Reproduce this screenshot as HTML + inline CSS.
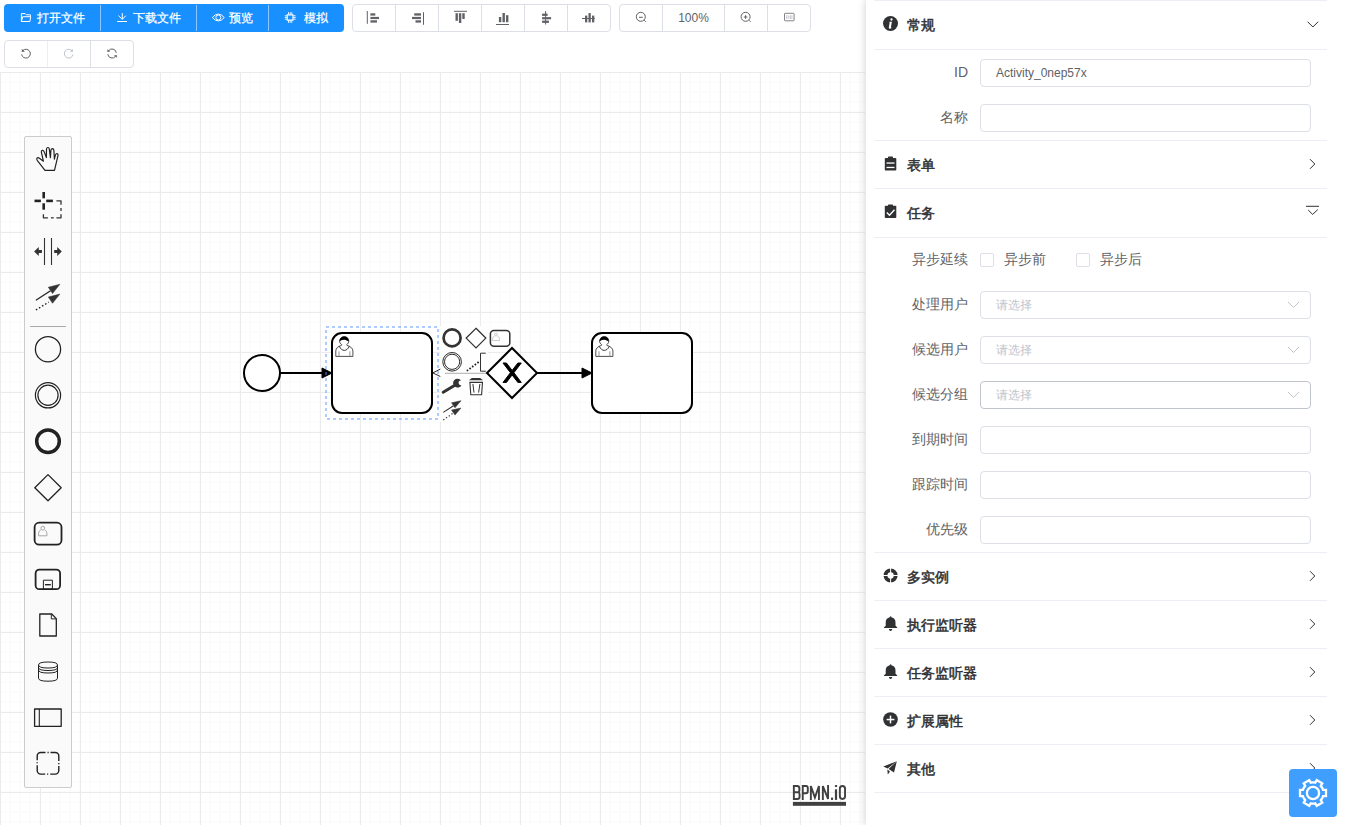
<!DOCTYPE html>
<html><head><meta charset="utf-8">
<style>
*{box-sizing:border-box}
html,body{margin:0;padding:0;width:1345px;height:825px;overflow:hidden;background:#fff;font-family:"Liberation Sans",sans-serif;}
.abs{position:absolute}
#canvas{position:absolute;left:0;top:72px;width:865px;height:753px;
background-color:#fff;
background-image:
linear-gradient(to right,#ebebeb 1px,transparent 1px),
linear-gradient(to bottom,#ebebeb 1px,transparent 1px),
linear-gradient(to right,#fcfcfc 1px,transparent 1px,transparent 9px,#fcfcfc 9px),
linear-gradient(to bottom,#fcfcfc 1px,transparent 1px,transparent 9px,#fcfcfc 9px);
background-size:40px 40px,40px 40px,10px 10px,10px 10px;}
.grp{position:absolute;height:28px;border:1px solid #dcdfe6;border-radius:4px;background:#fff;display:flex}
.grp .b{height:26px;border-left:1px solid #dcdfe6;display:flex;align-items:center;justify-content:center;color:#606266;font-size:12px}
.grp .b:first-child{border-left:none}
.pgrp{position:absolute;left:4px;top:4px;width:340px;height:28px;background:#1890ff;border-radius:4px;color:#fff;font-size:12px}
.pgrp .b{position:absolute;top:0;height:28px;line-height:28px;-webkit-text-stroke:0.25px #fff}
.pgrp .d{position:absolute;top:1px;width:1px;height:26px;background:rgba(255,255,255,.5)}
#palette{position:absolute;left:24px;top:136px;width:48px;height:652px;background:#fafafa;border:1px solid #ccc;border-radius:2px}
#panel{position:absolute;left:866px;top:0;width:479px;height:825px;background:#fff;box-shadow:0 0 8px #ccc}
.sep{position:absolute;left:9px;width:453px;height:1px;background:#ebeef5}
.hd{position:absolute;left:42px;font-size:14px;font-weight:normal;-webkit-text-stroke:0.5px #303133;color:#303133;line-height:20px}
.lbl{position:absolute;width:103px;left:0;text-align:right;font-size:14px;color:#606266;line-height:20px}
.inp{position:absolute;left:115px;width:331px;height:28px;border:1px solid #dcdfe6;border-radius:4px;font-size:12px;color:#606266;padding-left:15px;line-height:26px}
.ph{color:#c0c4cc}
.cb{position:absolute;width:14px;height:14px;border:1px solid #dcdfe6;border-radius:2px;background:#fff}
.cbl{position:absolute;font-size:14px;color:#606266;line-height:20px}
</style></head><body>
<div id="canvas"></div>
<div class="pgrp">
  <div class="b" style="left:33px">打开文件</div>
  <div class="d" style="left:96px"></div>
  <div class="b" style="left:129px">下载文件</div>
  <div class="d" style="left:192px"></div>
  <div class="b" style="left:225px">预览</div>
  <div class="d" style="left:264px"></div>
  <div class="b" style="left:300px">模拟</div>
</div>
<div class="grp" style="left:352px;top:4px;width:259px">
  <div class="b" style="width:42px"></div><div class="b" style="width:43px"></div><div class="b" style="width:43px"></div><div class="b" style="width:43px"></div><div class="b" style="width:43px"></div><div class="b" style="width:43px"></div>
</div>
<div class="grp" style="left:619px;top:4px;width:192px">
  <div class="b" style="width:42px"></div><div class="b" style="width:62px">100%</div><div class="b" style="width:43px"></div><div class="b" style="width:43px"></div>
</div>
<div class="grp" style="left:4px;top:40px;width:130px">
  <div class="b" style="width:42px"></div><div class="b" style="width:43px;border-color:#ebeef5"></div><div class="b" style="width:43px"></div>
</div>
<svg class="abs" style="left:0;top:0" width="865" height="72">
<g fill="none" stroke="#fff" stroke-width="1" stroke-linejoin="round">
  <!-- folder opened -->
  <path d="M21.4,21.5 V13.6 H25.2 L26.3,14.8 H30.4 V16.6"/>
  <path d="M22.7,16.7 H30.7 L29.9,21.5 H21.4 Z"/>
  <!-- download -->
  <line x1="122.3" y1="13.1" x2="122.3" y2="19.2"/>
  <path d="M118.5,15.7 L122.3,19.3 L125.8,15.7"/>
  <line x1="117.2" y1="21.5" x2="127" y2="21.5"/>
  <!-- eye -->
  <path d="M212.3,17.5 Q218.3,10.6 224.3,17.5 Q218.3,24.4 212.3,17.5 Z"/>
  <circle cx="218.3" cy="17.5" r="2.5"/>
  <!-- chip -->
  <rect x="287.2" y="14.9" width="5.8" height="5.2" stroke-width="1.2"/>
  <g stroke-width="0.9">
  <path d="M288.5,12.2 V14.5 M290.2,12.2 V14.5 M291.8,12.2 V14.5 M288.5,20.5 V22.8 M290.2,20.5 V22.8 M291.8,20.5 V22.8"/>
  <path d="M284.8,15.8 H286.8 M284.8,17.5 H286.8 M284.8,19.2 H286.8 M293.4,15.8 H295.6 M293.4,17.5 H295.6 M293.4,19.2 H295.6"/>
  </g>
</g>
<g fill="#606266" stroke="none">
  <!-- align left -->
  <rect x="366.8" y="11" width="1" height="12.8"/>
  <rect x="370.4" y="13.3" width="4.9" height="2.3"/>
  <rect x="370.4" y="16.9" width="8.6" height="2.2"/>
  <rect x="370.4" y="20.3" width="6.6" height="2.3"/>
  <!-- align right -->
  <rect x="423" y="12.2" width="1" height="12.6"/>
  <rect x="414.2" y="13.3" width="6.8" height="2.3"/>
  <rect x="412" y="16.9" width="9" height="2.2"/>
  <rect x="415.5" y="20.3" width="5.5" height="2.3"/>
  <!-- align top -->
  <rect x="454" y="10.8" width="13" height="1"/>
  <rect x="455.5" y="13.2" width="2.4" height="7.6"/>
  <rect x="458.9" y="13.2" width="2.4" height="9.8"/>
  <rect x="462.3" y="13.2" width="2.4" height="5.8"/>
  <!-- align bottom -->
  <rect x="496" y="24" width="13" height="1"/>
  <rect x="498.9" y="17" width="2.4" height="5.2"/>
  <rect x="502.5" y="13" width="2.4" height="9.2"/>
  <rect x="506" y="15.2" width="2.4" height="7"/>
  <!-- align center -->
  <rect x="545.1" y="11" width="1" height="13.5"/>
  <rect x="542.1" y="13.6" width="5.5" height="2.3"/>
  <rect x="542.1" y="17.1" width="9" height="2.2"/>
  <rect x="542.1" y="20.6" width="6.8" height="2.3"/>
  <!-- align middle -->
  <rect x="582" y="18" width="12.8" height="1"/>
  <rect x="585" y="15.6" width="2.3" height="6.8"/>
  <rect x="588.5" y="13.1" width="2.3" height="9.3"/>
  <rect x="592" y="15.6" width="2.3" height="6.8"/>
</g>
<g fill="none" stroke="#606266" stroke-width="1">
  <!-- zoom out -->
  <circle cx="640.8" cy="16.8" r="4.5"/>
  <line x1="639" y1="17.3" x2="642.8" y2="17.3"/>
  <line x1="644.2" y1="20.2" x2="645.8" y2="21.8"/>
  <!-- zoom in -->
  <circle cx="745.6" cy="16.8" r="4.5"/>
  <line x1="743.8" y1="17" x2="747.4" y2="17"/>
  <line x1="745.6" y1="15.2" x2="745.6" y2="18.8"/>
  <line x1="749" y1="20.2" x2="750.6" y2="21.8"/>
  <!-- fit -->
  <rect x="784.5" y="13.3" width="9.6" height="7.5" rx="0.6" stroke="#777" stroke-width="0.9"/>
  <path d="M786.6,15.2 V19 M788.2,15.2 V19 M789.3,16.2 V16.8 M789.3,17.6 V18.2 M790.5,15.2 V19 M791.9,15.2 V19" stroke="#aab" stroke-width="0.6"/>
  <!-- undo -->
  <path d="M22.7,50.7 A4.4,4.4 0 1 1 21.6,54.4"/>
  <path d="M21.8,48.9 L21.8,52 L24.9,51.6 Z" fill="#606266" stroke="none"/>
  <!-- redo (disabled) -->
  <path d="M72,50.7 A4.4,4.4 0 1 0 73.1,54.4" stroke="#c0c4cc"/>
  <path d="M72.9,48.9 L72.9,52 L69.8,51.6 Z" fill="#c0c4cc" stroke="none"/>
  <!-- refresh -->
  <path d="M108.5,50.8 A4.3,4.3 0 0 1 116.3,52.8"/>
  <path d="M107.4,49.2 L107.4,52 L110.3,51.5 Z" fill="#606266" stroke="none"/>
  <path d="M115.6,56.2 A4.3,4.3 0 0 1 107.8,54.2"/>
  <path d="M116.8,57.8 L116.8,55 L113.9,55.5 Z" fill="#606266" stroke="none"/>
</g>
</svg>
<div id="palette"></div>
<svg class="abs" style="left:0;top:0" width="865" height="825">
<g fill="none" stroke="#222" stroke-linejoin="round" stroke-linecap="butt">
  <!-- hand -->
  <path d="M45,170.4 L54.5,170.4 L57.9,155.8 Q58.4,153.6 56.9,153.5 Q55.6,153.5 55.2,155.6 L54.4,159.2 L53.9,150.4 Q53.7,148.6 52.3,148.6 Q50.9,148.7 50.9,150.4 L50.4,157.6 L49.3,149 Q49.1,147.4 47.8,147.5 Q46.5,147.6 46.5,149.2 L46.4,157.6 L44.1,151.6 Q43.5,150.1 42.3,150.3 Q41,150.7 41.4,152.4 L43.4,161.2 L39.4,158.2 Q38,157.2 37.1,158 Q36.3,158.9 37.2,160.3 Z" stroke-width="1.2" stroke="#222"/>
  <!-- lasso cross -->
  <g stroke="#222" stroke-width="2.6">
    <line x1="43.7" y1="192" x2="43.7" y2="198.3"/>
    <line x1="43.7" y1="203.3" x2="43.7" y2="209.7"/>
    <line x1="34.5" y1="200.9" x2="40.9" y2="200.9"/>
    <line x1="46.2" y1="200.9" x2="52.9" y2="200.9"/>
  </g>
  <g stroke="#333" stroke-width="1.3">
    <path d="M56.4,200.8 H61 V204.7"/>
    <line x1="61" y1="208" x2="61" y2="211"/>
    <path d="M61,214.2 V217.8 H56.4"/>
    <line x1="51" y1="217.8" x2="53.7" y2="217.8"/>
    <path d="M47.9,217.8 H43.4 V214.2"/>
  </g>
  <!-- space tool -->
  <g stroke="#333" stroke-width="1.1">
    <line x1="44.5" y1="238" x2="44.5" y2="265"/>
    <line x1="51.5" y1="238" x2="51.5" y2="265"/>
  </g>
  <path d="M34.1,251.5 L38.8,247 V250.1 H41.9 V252.9 H38.8 V255.9 Z" fill="#333" stroke="none"/>
  <path d="M61.8,251.5 L57.2,247 V250.1 H54.2 V252.9 H57.2 V255.9 Z" fill="#333" stroke="none"/>
  <!-- global connect -->
  <line x1="35.9" y1="300.2" x2="50.5" y2="290.8" stroke="#222" stroke-width="1.3"/>
  <path d="M59.9,284.3 L48.3,287.2 L52.5,293.6 Z" fill="#333" stroke="#333" stroke-width="0.5"/>
  <line x1="35.9" y1="310" x2="48.7" y2="302.1" stroke="#222" stroke-width="1.4" stroke-dasharray="1.6 2"/>
  <path d="M59.9,294.1 L48.3,297 L52.5,303.3 Z" fill="#333" stroke="#333" stroke-width="0.5"/>
  <!-- separator -->
  <line x1="30" y1="326.5" x2="66" y2="326.5" stroke="#aaa" stroke-width="1"/>
  <!-- events -->
  <circle cx="48" cy="349.2" r="12.6" stroke-width="1.3"/>
  <circle cx="48" cy="395.3" r="12.6" stroke-width="1.2"/>
  <circle cx="48" cy="395.3" r="10.1" stroke-width="1.2"/>
  <circle cx="48" cy="441.3" r="11.3" stroke-width="3.5"/>
  <path d="M48,474.6 L61.2,487.7 L48,500.8 L34.8,487.7 Z" stroke-width="1.3"/>
  <!-- task -->
  <rect x="34.6" y="522.7" width="26.9" height="22" rx="4.5" stroke-width="1.8"/>
  <g stroke="#888" stroke-width="0.7">
    <circle cx="42.8" cy="528.2" r="1.9"/>
    <path d="M40.8,530 Q38.6,531 38.6,533 V535.8 H46.9 V533 Q46.9,531 44.8,530"/>
  </g>
  <!-- subprocess -->
  <rect x="35.6" y="569.6" width="24.5" height="19.6" rx="3.8" stroke-width="1.8"/>
  <rect x="43.4" y="580.2" width="9" height="9" stroke-width="1"/>
  <line x1="45" y1="584.7" x2="50.8" y2="584.7" stroke-width="1.4"/>
  <!-- data object -->
  <path d="M39.8,614 H51.8 L56.3,618.6 V636 H39.8 Z" stroke-width="1.3"/>
  <path d="M51.3,614.3 V618.9 H56" stroke-width="1"/>
  <!-- data store -->
  <g stroke-width="1">
    <path d="M38.5,665 Q38.5,662 48,662 Q57.5,662 57.5,665 V678.2 Q57.5,681.2 48,681.2 Q38.5,681.2 38.5,678.2 Z"/>
    <path d="M38.5,665 Q38.5,668 48,668 Q57.5,668 57.5,665"/>
    <path d="M38.5,667.5 Q38.5,670.5 48,670.5 Q57.5,670.5 57.5,667.5"/>
    <path d="M38.5,670 Q38.5,673 48,673 Q57.5,673 57.5,670"/>
  </g>
  <!-- participant -->
  <rect x="34.6" y="709" width="26.6" height="17.3" stroke-width="1.3"/>
  <line x1="39.3" y1="709" x2="39.3" y2="726.3" stroke-width="1.1"/>
  <!-- group -->
  <rect x="37.2" y="752.5" width="21.6" height="21.6" rx="3.5" stroke-width="1.4" stroke-dasharray="15.1 2 1.2 1.8" stroke-dashoffset="10.3"/>
</g>

<!-- diagram -->
<g fill="#fefefe" stroke="#fefefe" stroke-width="2">
  <rect x="441" y="327" width="70" height="22"/>
  <rect x="441" y="351" width="46" height="22"/>
  <rect x="441" y="375" width="46" height="22"/>
  <rect x="441" y="399" width="22" height="22"/>
</g>
<g fill="none" stroke="#000" stroke-width="2">
  <circle cx="262" cy="373" r="18" fill="#fff"/>
  <line x1="280" y1="373" x2="322" y2="373"/>
  <path d="M322,368 L332,373 L322,378 Z" fill="#000" stroke-width="1" stroke-linejoin="round"/>
  <rect x="332" y="333" width="100" height="80" rx="10" ry="10" fill="#fff"/>
  <rect x="592" y="333" width="100" height="80" rx="10" ry="10" fill="#fff"/>
  <path d="M487,373 L512,348 L537,373 L512,398 Z" fill="#fff" stroke-linejoin="miter"/>
  <path d="M503,363 L510.43,372.71 L503,382.43 L506.43,382.43 L512.14,374.96 L517.86,382.43 L521.29,382.43 L513.86,372.71 L521.29,363 L517.86,363 L512.14,370.46 L506.43,363 Z" fill="#000" stroke-width="1"/>
  <line x1="537" y1="373" x2="582" y2="373"/>
  <path d="M582,368 L592,373 L582,378 Z" fill="#000" stroke-width="1" stroke-linejoin="round"/>
</g>
<defs>
  <g id="user">
    <path d="M9.4,12.4 L9.7,11.6 C8.4,10.8 7.6,9.6 7.6,8.1 C7.6,5.5 9.6,3.6 12.2,3.6 C14.8,3.6 16.8,5.5 16.8,8.1 C16.8,9.6 16,10.8 14.7,11.6 L15,12.4 C18.6,13.4 20.9,15.4 20.9,18 V23.4 H3.8 V18 C3.8,15.4 5.9,13.4 9.4,12.4 Z" fill="#fff" stroke="#222" stroke-width="0.8"/>
    <path d="M7.3,13.3 C8.6,16 10.3,17.4 12.3,17.4 C14.3,17.4 16,16 17.3,13.3" fill="none" stroke="#222" stroke-width="0.9"/>
    <path d="M7.6,8.2 C7.6,5.4 9.7,3.6 12.2,3.6 C14.8,3.6 16.8,5.5 16.8,8.5 C15.6,8.1 14.6,7.4 13.6,7 C11.6,6.6 9.6,7.2 7.6,8.2 Z" fill="#000"/>
    <line x1="7" y1="18.3" x2="7" y2="23.4" stroke="#888" stroke-width="0.9"/>
    <line x1="17.9" y1="18.3" x2="17.9" y2="23.4" stroke="#888" stroke-width="0.9"/>
  </g>
</defs>
<use href="#user" x="332" y="333"/>
<use href="#user" x="592" y="333"/>
<!-- selection outline -->
<rect x="326" y="327" width="112" height="92" fill="none" stroke="#4d90ff" stroke-width="1" stroke-dasharray="3 3" opacity="0.9"/>
<!-- context pad -->

<g fill="none" stroke="#333">
  <circle cx="452.1" cy="337.9" r="8.5" stroke-width="2.7"/>
  <path d="M476,328.3 L485.8,338.1 L476,347.9 L466.2,338.1 Z" stroke-width="1.3"/>
  <rect x="490.4" y="330.4" width="19.4" height="15.9" rx="3.5" stroke-width="1.5"/>
  <g stroke="#aaa" stroke-width="0.6"><circle cx="496" cy="334.5" r="1.4"/><path d="M494.5,336.3 Q492.5,337 492.5,338.5 V340.5 H499.5 V338.5 Q499.5,337 497.5,336.3"/></g>
  <circle cx="452.1" cy="361.8" r="9.3" stroke-width="1" stroke="#2a2a2a"/>
  <circle cx="452.1" cy="361.8" r="7.6" stroke-width="1" stroke="#2a2a2a"/>
  <path d="M485.8,353.2 H480.5 V371.2 H485.8" stroke-width="1"/>
  <line x1="466.8" y1="370.9" x2="479" y2="361.8" stroke-width="1.8" stroke-dasharray="1.6 1.7" stroke="#222"/>
  <line x1="445" y1="373.3" x2="486" y2="373.3" stroke="#999" stroke-width="0.8"/>
  <path d="M440.3,369.1 L432.8,372.9 L440.3,376.5" stroke="#111" stroke-width="0.9"/>
  <!-- wrench -->
  <line x1="443.2" y1="392.2" x2="454" y2="385.8" stroke-width="3" stroke-linecap="round"/>
  <path d="M461.05,380.61 A4.4,4.4 0 1 0 461.45,385.13 A2.3,2.3 0 1 1 461.05,380.61 Z" fill="#333" stroke="none"/>
  <!-- trash -->
  <path d="M469,380.3 L471.8,377.9 H480.2 L483,380.3 Z" fill="#333" stroke="none"/>
  <path d="M469.9,382.4 L470.8,394.7 H481.6 L482.5,382.4 Z" stroke-width="1.1"/>
  <line x1="472.9" y1="384" x2="474" y2="392.6" stroke-width="1"/>
  <line x1="479.9" y1="384" x2="478.6" y2="392.6" stroke-width="1"/>
  <!-- connect -->
  <line x1="443.3" y1="412.4" x2="453.5" y2="405.8" stroke-width="1.1"/>
  <path d="M461,400.7 L451.5,402.8 L455,407.8 Z" fill="#333" stroke-width="0.5"/>
  <line x1="443.3" y1="419.9" x2="453" y2="413.2" stroke-width="1.2" stroke-dasharray="1.3 2"/>
  <path d="M461,408 L451.5,410.1 L455,415.1 Z" fill="#333" stroke-width="0.5"/>
</g>
<!-- bpmn.io logo -->
<g fill="none" stroke="#404040" stroke-width="1.9" stroke-linejoin="miter">
  <path d="M793.85,786 V799 H797.4 Q799.55,799 799.55,796.4 V794.3 Q799.55,792.6 798.2,792.3 Q799.35,791.9 799.35,790.2 V788.5 Q799.35,786 797.2,786 Z M793.85,792.3 H797.6"/>
  <path d="M802.75,799.9 V786 H806 Q807.8,786 807.8,788.3 V791 Q807.8,793.3 806,793.3 H802.75"/>
  <path d="M810.85,799.9 V786 L814.9,797.6 L818.95,786 V799.9"/>
  <path d="M822.85,799.9 V786.1 L828.05,798.9 V785.1"/>
  <rect x="839.85" y="786.05" width="5.2" height="12.9" rx="2.6"/>
</g>
<g fill="#404040">
  <rect x="831" y="797.6" width="2.1" height="2.3"/>
  <rect x="834.9" y="785.1" width="2.2" height="1.9"/>
  <rect x="834.9" y="789.3" width="2.2" height="10.6"/>
  <rect x="792.9" y="801.9" width="53.1" height="3.9"/>
</g>
</svg>
<div id="panel"><div style="position:absolute;left:-1px;top:0;width:480px;height:825px">
  <div class="sep" style="top:0"></div>
  <div class="sep" style="top:49px"></div>
  <div class="sep" style="top:140px"></div>
  <div class="sep" style="top:188px"></div>
  <div class="sep" style="top:237px"></div>
  <div class="sep" style="top:552px"></div>
  <div class="sep" style="top:600px"></div>
  <div class="sep" style="top:648px"></div>
  <div class="sep" style="top:696px"></div>
  <div class="sep" style="top:744px"></div>
  <div class="sep" style="top:792px"></div>
  <div class="hd" style="top:15px">常规</div>
  <div class="hd" style="top:155px">表单</div>
  <div class="hd" style="top:203px">任务</div>
  <div class="hd" style="top:567px">多实例</div>
  <div class="hd" style="top:615px">执行监听器</div>
  <div class="hd" style="top:663px">任务监听器</div>
  <div class="hd" style="top:711px">扩展属性</div>
  <div class="hd" style="top:759px">其他</div>

  <div class="lbl" style="top:62px">ID</div>
  <div class="inp" style="top:59px">Activity_0nep57x</div>
  <div class="lbl" style="top:107px">名称</div>
  <div class="inp" style="top:104px"></div>

  <div class="lbl" style="top:249px">异步延续</div>
  <div class="cb" style="left:115px;top:253px"></div>
  <div class="cbl" style="left:139px;top:249px">异步前</div>
  <div class="cb" style="left:211px;top:253px"></div>
  <div class="cbl" style="left:235px;top:249px">异步后</div>
  <div class="lbl" style="top:294px">处理用户</div>
  <div class="inp ph" style="top:291px">请选择</div>
  <div class="lbl" style="top:339px">候选用户</div>
  <div class="inp ph" style="top:336px">请选择</div>
  <div class="lbl" style="top:384px">候选分组</div>
  <div class="inp ph" style="top:381px;border-color:#c0c4cc">请选择</div>
  <div class="lbl" style="top:429px">到期时间</div>
  <div class="inp" style="top:426px"></div>
  <div class="lbl" style="top:474px">跟踪时间</div>
  <div class="inp" style="top:471px"></div>
  <div class="lbl" style="top:519px">优先级</div>
  <div class="inp" style="top:516px"></div>
  <svg class="abs" style="left:0;top:0" width="480" height="825">
<g fill="#303133" stroke="none">
  <!-- info -->
  <circle cx="25.5" cy="23.5" r="7.5"/>
  <circle cx="26.5" cy="19.5" r="1.15" fill="#fff"/><path d="M24.5,21.7 H26.9 L25.9,27.2 Q25.8,27.7 26.6,27.5 L26.4,28.3 Q25.2,28.8 24.4,28.6 Q23.6,28.3 23.8,27.4 L24.7,22.6 L24.3,22.5 Z" fill="#fff"/>
  <!-- form clipboard -->
  <rect x="19.8" y="158" width="11.5" height="12.5" rx="0.8"/>
  <rect x="23" y="156.6" width="5" height="2.4" rx="0.6"/>
  <rect x="21.5" y="162.4" width="8" height="1.3" fill="#fff"/>
  <rect x="21.5" y="166.8" width="8" height="1.3" fill="#fff"/>
  <!-- task clipboard -->
  <rect x="19.8" y="205.8" width="11.5" height="12.3" rx="0.8"/>
  <rect x="23" y="204.5" width="5" height="2.4" rx="0.6"/>
  <path d="M21.8,212.4 L24.5,215.2 L29.5,209.8" fill="none" stroke="#fff" stroke-width="1.4"/>
  <!-- lifering -->
  <circle cx="25.6" cy="575.5" r="5.1" fill="none" stroke="#303133" stroke-width="3.9"/>
  <rect x="25.1" y="568" width="1" height="15" fill="#fff"/>
  <rect x="18" y="575" width="15" height="1" fill="#fff"/>
  <!-- bells -->
  <path id="bell1" d="M25.6,616.3 Q26.3,616.3 26.4,617.3 Q30.5,618.3 30.5,622.5 V625.8 L32.3,627.4 V628 H18.9 V627.4 L20.7,625.8 V622.5 Q20.7,618.3 24.8,617.3 Q24.9,616.3 25.6,616.3 Z M23.8,629 H27.4 Q27,630.9 25.6,630.9 Q24.2,630.9 23.8,629 Z"/>
  <use href="#bell1" y="48"/>
  <!-- plus circle -->
  <circle cx="25.5" cy="719.5" r="7.3"/>
  <rect x="21.6" y="718.8" width="7.8" height="1.5" fill="#fff"/>
  <rect x="24.75" y="715.6" width="1.5" height="7.8" fill="#fff"/>
  <!-- paper plane -->
  <path d="M31.8,761.2 L18.3,766.5 L22.7,768.6 Z"/>
  <path d="M31.8,761.2 L23.6,769 L29,772.6 Z"/>
  <path d="M22.3,769.6 L25,771.5 L22.8,774.4 Z"/>
</g>
<g fill="none" stroke="#303133" stroke-width="1">
  <path d="M442.6,21.7 L447.9,27 L453.2,21.7"/>
  <path d="M445,159.2 L449.8,164 L445,168.8"/>
  <rect x="441" y="205.8" width="13" height="1" fill="#303133" stroke="none"/>
  <path d="M443.2,210 L447.6,214.4 L452.8,209.6"/>
  <path d="M445,571.2 L449.8,576 L445,580.8"/>
  <path d="M445,619.2 L449.8,624 L445,628.8"/>
  <path d="M445,667.2 L449.8,672 L445,676.8"/>
  <path d="M445,715.2 L449.8,720 L445,724.8"/>
  <path d="M445,763.2 L449.8,768 L445,772.8"/>
</g>
<g fill="none" stroke="#c0c4cc" stroke-width="1">
  <path d="M423,302 L428.5,307.5 L434,302"/>
  <path d="M423,347 L428.5,352.5 L434,347"/>
  <path d="M423,392 L428.5,397.5 L434,392"/>
</g>
</svg>
</div></div>
<div class="abs" style="left:1289px;top:769px;width:48px;height:48px;background:#409eff;border-radius:4px"></div>
<svg class="abs" style="left:0;top:0" width="1345" height="825">
  <path d="M1323.11,789.80 L1326.00,789.80 L1326.00,796.20 L1323.11,796.20 A10.60,10.60 0 0 1 1320.82,800.15 L1322.27,802.66 L1316.73,805.86 L1315.28,803.35 A10.60,10.60 0 0 1 1310.72,803.35 L1309.27,805.86 L1303.73,802.66 L1305.18,800.15 A10.60,10.60 0 0 1 1302.89,796.20 L1300.00,796.20 L1300.00,789.80 L1302.89,789.80 A10.60,10.60 0 0 1 1305.18,785.85 L1303.73,783.34 L1309.27,780.14 L1310.72,782.65 A10.60,10.60 0 0 1 1315.28,782.65 L1316.73,780.14 L1322.27,783.34 L1320.82,785.85 A10.60,10.60 0 0 1 1323.11,789.80 Z" fill="none" stroke="#fff" stroke-width="2.3" stroke-linejoin="miter"/>
  <circle cx="1313" cy="793" r="6.1" fill="none" stroke="#fff" stroke-width="2.3"/>
</svg>
</body></html>
